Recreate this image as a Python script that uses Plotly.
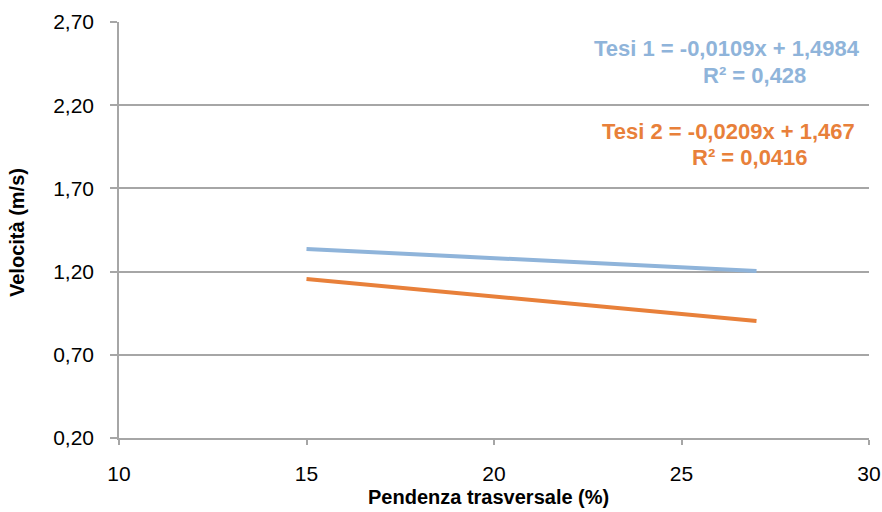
import plotly.graph_objects as go

# trendline end points
pendenza = [15, 27]
tesi1 = [1.336, 1.204]
tesi2 = [1.156, 0.903]

y_ticks = [0.20, 0.70, 1.20, 1.70, 2.20, 2.70]
x_ticks = [10, 15, 20, 25, 30]

blue = '#8FB4DA'
orange = '#E8803A'
grid = '#A6A6A6'

W, H = 882, 512
L, R, T, B = 119, 13, 22, 74
pw, ph = W - L - R, H - T - B

def px_x(px):
    return (px - L) / pw

def px_y(py):
    return 1 - (py - T) / ph

fig = go.Figure()

fig.add_trace(go.Scatter(x=pendenza, y=tesi1, mode='lines', name='Tesi 1',
                         line=dict(color=blue, width=4)))
fig.add_trace(go.Scatter(x=pendenza, y=tesi2, mode='lines', name='Tesi 2',
                         line=dict(color=orange, width=4)))

ann_font = dict(family='Liberation Sans, Arial, sans-serif', size=22)
annots = [
    ('Tesi 1 = -0,0109x + 1,4984', 862, 48, blue),
    ('R² = 0,428', 808, 75, blue),
    ('Tesi 2 = -0,0209x + 1,467', 857, 131, orange),
    ('R² = 0,0416', 810, 157, orange),
]
for text, px, py, col in annots:
    fig.add_annotation(text='<b>' + text + '</b>', xref='paper', yref='paper',
                       x=px_x(px), y=px_y(py),
                       xanchor='right', yanchor='middle', showarrow=False,
                       font=dict(color=col, **ann_font))

# axis titles placed as annotations
fig.add_annotation(text='<b>Pendenza trasversale (%)</b>', xref='paper', yref='paper',
                   x=px_x(488), y=px_y(497), xanchor='center', yanchor='middle',
                   showarrow=False, font=dict(size=20, color='black'))
fig.add_annotation(text='<b>Velocità (m/s)</b>', xref='paper', yref='paper',
                   x=px_x(17), y=px_y(232), xanchor='center', yanchor='middle',
                   textangle=-90, showarrow=False, font=dict(size=20, color='black'))

fig.update_xaxes(range=[10, 30], tickvals=x_ticks, showgrid=False,
                 showline=True, linecolor=grid, linewidth=1.5,
                 ticks='outside', ticklen=5, tickcolor=grid, tickwidth=1.5,
                 ticklabelstandoff=11, zeroline=False,
                 tickfont=dict(size=21, color='black'))
fig.update_yaxes(range=[0.20, 2.70], tickvals=y_ticks, tickformat='.2f',
                 showgrid=True, gridcolor=grid, gridwidth=1.5,
                 showline=True, linecolor=grid, linewidth=1.5,
                 ticks='outside', ticklen=7, tickcolor=grid, tickwidth=1.5,
                 ticklabelstandoff=12, zeroline=False,
                 tickfont=dict(size=21, color='black'))

fig.update_layout(
    width=W, height=H,
    margin=dict(l=L, r=R, t=T, b=B, autoexpand=False),
    paper_bgcolor='white', plot_bgcolor='white',
    separators=',.',
    showlegend=False,
    font=dict(family='Liberation Sans, Arial, sans-serif', color='black'),
)

# drop the default 8px body margin so the figure fills the window
fig.write_html('out.html', config={'displayModeBar': False},
               post_script="document.body.style.margin='0';")
